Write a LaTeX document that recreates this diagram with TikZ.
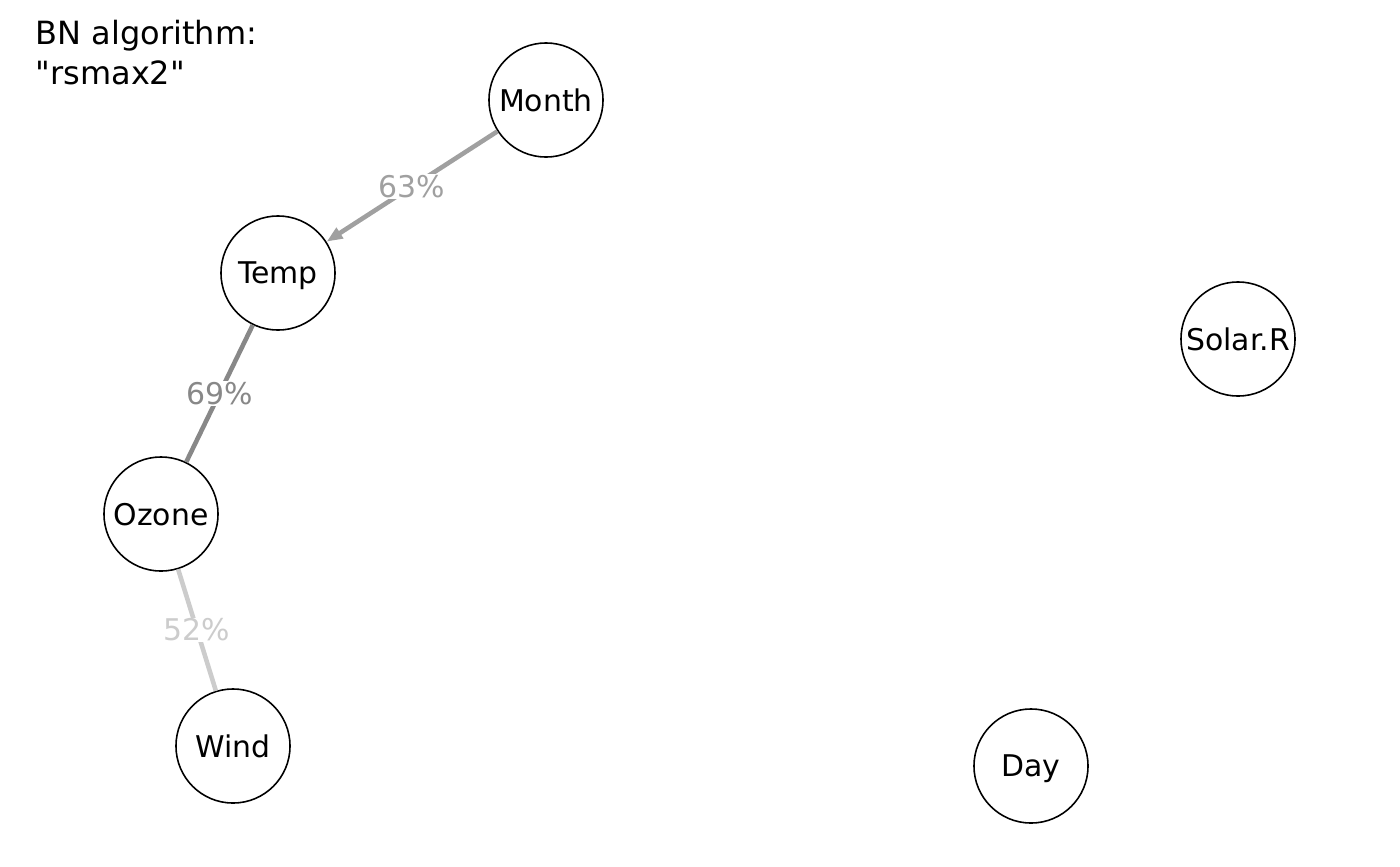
\documentclass[tikz,border=0pt]{standalone}
\usepackage{fontspec}
\setmainfont{DejaVu Sans}
\newfontfamily\plainfont{DejaVu Sans}
\usetikzlibrary{arrows.meta}
\definecolor{e63}{HTML}{A0A0A0}
\definecolor{e69}{HTML}{888888}
\definecolor{e52}{HTML}{CCCCCC}
\begin{document}
\begin{tikzpicture}[x=0.01cm,y=-0.01cm,
  var/.style={circle,draw=black,line width=0.45pt,minimum size=1.14cm,inner sep=0pt,text depth=0pt,font=\fontsize{8.5}{10.5}\selectfont},
  edge/.style={line width=1.3pt},
  pct/.style={fill=white,inner sep=0.3pt,font=\fontsize{8.5}{10.5}\selectfont}]
\useasboundingbox (0,0) rectangle (1400,866);
\node[anchor=north west,align=left,inner sep=0pt,font=\plainfont\fontsize{9.1}{11.4}\selectfont] (title) at (35,19) {BN algorithm:\\"rsmax2"};
\node[var] (Month) at (546,100) {Month};
\node[var] (Temp) at (278,273) {Temp};
\node[var] (Solar) at (1238,339) {Solar.R};
\node[var] (Ozone) at (161,514) {Ozone};
\node[var] (Wind) at (233,746) {Wind};
\node[var] (Day) at (1031,766) {Day};
\draw[edge,draw=e63,-{Triangle[length=0.16cm,width=0.12cm]}] (Month) -- (Temp) node[pct,text=e63,pos=0.5] {63\%};
\draw[edge,draw=e69] (Temp) -- (Ozone) node[pct,text=e69,pos=0.5] {69\%};
\draw[edge,draw=e52] (Ozone) -- (Wind) node[pct,text=e52,pos=0.5] {52\%};
\end{tikzpicture}
\end{document}
